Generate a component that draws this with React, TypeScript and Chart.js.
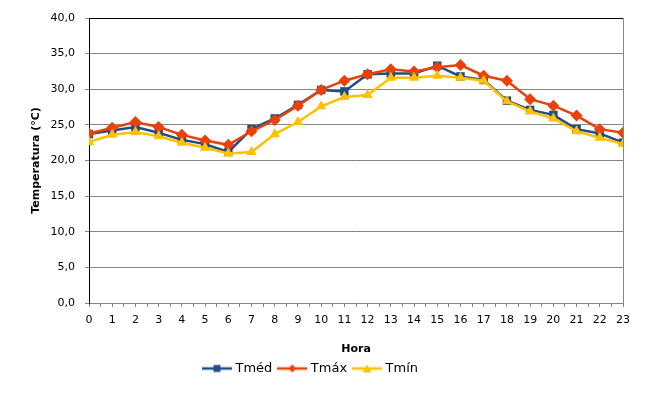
import React, { useEffect, useRef } from 'react'
import { Chart, registerables } from 'chart.js'

Chart.register(...registerables)

const hours = [0, 1, 2, 3, 4, 5, 6, 7, 8, 9, 10, 11, 12, 13, 14, 15, 16, 17, 18, 19, 20, 21, 22, 23]
const tMed = [23.7, 24.2, 24.7, 23.9, 22.9, 22.3, 21.2, 24.4, 25.9, 27.8, 29.9, 29.7, 32.1, 32.2, 32.2, 33.3, 31.8, 31.3, 28.4, 27.1, 26.4, 24.4, 23.8, 22.5]
const tMax = [23.8, 24.6, 25.4, 24.7, 23.6, 22.8, 22.2, 24.1, 25.7, 27.7, 29.9, 31.2, 32.1, 32.8, 32.5, 33.1, 33.4, 31.9, 31.2, 28.6, 27.7, 26.3, 24.4, 23.9]
const tMin = [22.6, 23.6, 24.0, 23.4, 22.5, 21.8, 21.0, 21.2, 23.7, 25.4, 27.6, 28.9, 29.2, 31.6, 31.6, 31.9, 31.6, 31.2, 28.3, 26.9, 25.9, 24.1, 23.2, 22.3]
const seriesNames = ['Tméd', 'Tmáx', 'Tmín']
const yMin = 0
const yMax = 40
const yStep = 5

const BLUE = '#1F4E87'
const RED = '#EA400A'
const YELLOW = '#FFC000'
const GRID = '#868686'
const FONT = 'DejaVu Sans'

// small "line + marker" picture used as legend symbol
const legendSymbol = (color: string, shape: string) => {
  const c = document.createElement('canvas')
  c.width = 30
  c.height = 10
  const ctx = c.getContext('2d')!
  ctx.strokeStyle = color
  ctx.fillStyle = color
  ctx.lineWidth = 2.5
  ctx.beginPath()
  ctx.moveTo(0, 5)
  ctx.lineTo(30, 5)
  ctx.stroke()
  ctx.beginPath()
  if (shape === 'rect') {
    ctx.rect(11.5, 1.5, 7, 7)
  } else if (shape === 'rectRot') {
    ctx.moveTo(15, 1)
    ctx.lineTo(19, 5)
    ctx.lineTo(15, 9)
    ctx.lineTo(11, 5)
    ctx.closePath()
  } else {
    ctx.moveTo(15, 1)
    ctx.lineTo(19.5, 9)
    ctx.lineTo(10.5, 9)
    ctx.closePath()
  }
  ctx.fill()
  return c
}

const App = () => {
  const chartRef = useRef<HTMLCanvasElement | null>(null)

  useEffect(() => {
    document.body.style.margin = '0'
    if (!chartRef.current) return

    const styles = [
      { color: BLUE, shape: 'rect', radius: 6 },
      { color: RED, shape: 'rectRot', radius: 6 },
      { color: YELLOW, shape: 'triangle', radius: 6 },
    ]
    const symbols = styles.map((s) => legendSymbol(s.color, s.shape))
    const values = [tMed, tMax, tMin]

    const chart = new Chart(chartRef.current, {
      type: 'line',
      data: {
        labels: hours,
        datasets: values.map((v, i) => ({
          label: seriesNames[i],
          data: v,
          borderColor: styles[i].color,
          backgroundColor: styles[i].color,
          borderWidth: 2.5,
          pointStyle: styles[i].shape,
          pointRadius: styles[i].radius,
          pointBorderWidth: 0,
          tension: 0,
          order: 3 - i,
        })),
      },
      options: {
        responsive: true,
        maintainAspectRatio: false,
        animation: false,
        layout: { padding: { left: 0, top: 18, right: 36, bottom: 15 } },
        plugins: {
          tooltip: { enabled: false },
          legend: {
            position: 'bottom',
            labels: {
              usePointStyle: true,
              pointStyleWidth: 24,
              padding: 8,
              color: '#000',
              font: { family: FONT, size: 13 },
              sort: (a, b) => (a.datasetIndex ?? 0) - (b.datasetIndex ?? 0),
              generateLabels: (ch) =>
                Chart.defaults.plugins.legend.labels
                  .generateLabels(ch)
                  .map((item) => ({ ...item, pointStyle: symbols[item.datasetIndex ?? 0] })),
            },
          },
        },
        scales: {
          x: {
            type: 'linear',
            min: 0,
            max: 23,
            ticks: {
              stepSize: 0.5,
              autoSkip: false,
              maxRotation: 0,
              padding: 7,
              color: '#000',
              font: { family: FONT, size: 11 },
              callback: (v) => (Number.isInteger(v) ? String(v) : ''),
            },
            grid: { drawOnChartArea: false, tickLength: 4, tickColor: GRID },
            border: { color: GRID },
            title: {
              display: true,
              text: 'Hora',
              color: '#000',
              font: { family: FONT, size: 11, weight: 'bold' },
              padding: { top: 0, bottom: -2 },
            },
            afterFit: (scale) => {
              scale.height = 51
            },
          },
          y: {
            min: yMin,
            max: yMax,
            ticks: {
              stepSize: yStep,
              padding: 10,
              color: '#000',
              font: { family: FONT, size: 11 },
              callback: (v) => Number(v).toFixed(1).replace('.', ','),
            },
            grid: {
              color: (c) => (c.tick && c.tick.value === yMax ? '#000' : GRID),
              tickLength: 4,
              tickColor: GRID,
            },
            border: { color: '#000' },
            title: {
              display: true,
              text: 'Temperatura (°C)',
              color: '#000',
              font: { family: FONT, size: 11, weight: 'bold' },
              padding: { top: 30, bottom: 0 },
            },
            afterFit: (scale) => {
              scale.width = 89
            },
          },
          y2: {
            position: 'right',
            min: yMin,
            max: yMax,
            ticks: { display: false },
            grid: { display: false },
            border: { color: GRID },
            afterFit: (scale) => {
              scale.width = 0
            },
          },
        },
      },
    })

    return () => chart.destroy()
  }, [])

  return (
    <div style={{ position: 'relative', width: '659px', height: '400px' }}>
      <canvas ref={chartRef} />
    </div>
  )
}

export default App
